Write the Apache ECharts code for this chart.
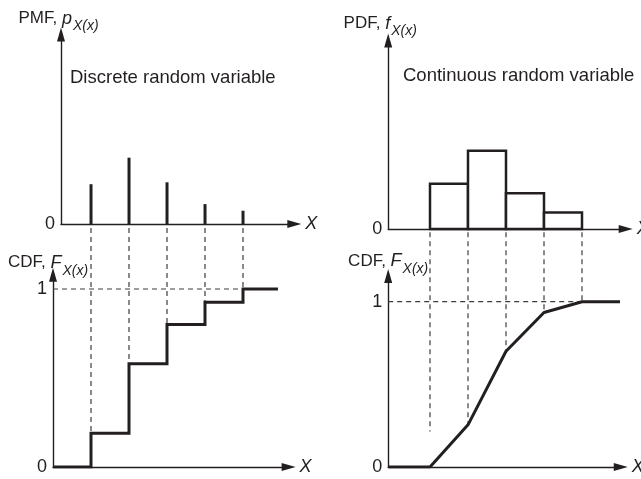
<!DOCTYPE html>
<html><head><meta charset="utf-8">
<script src="https://cdn.jsdelivr.net/npm/echarts@6/dist/echarts.min.js"></script>
<style>html,body{margin:0;padding:0;background:#fff}#c{width:641px;height:479px}</style>
</head><body><div id="c"></div>
<script>
// ---------------- data ----------------
const stemX = [1, 2, 3, 4, 5];
const pmfValues = [0.21, 0.35, 0.22, 0.105, 0.07];
const cdfDiscreteX = [0, 1, 2, 3, 4, 5, 5.92];
const cdfDiscreteY = [0, 0.19, 0.58, 0.80, 0.925, 1, 1];
const binEdges = [1, 2, 3, 4, 5];
const pdfValues = [0.24, 0.415, 0.19, 0.087];
const cdfContX = [-0.1, 1, 2, 3, 4, 5, 6.0];
const cdfContY = [0, 0, 0.255, 0.70, 0.935, 1, 1];
const guideDiscreteEnd = [0.19, 0.58, 0.80, 0.925, 1];
const guideContEnd = [0.215, 0.255, 0.70, 0.935, 1];
const guideDiscreteTop = 1.343;
const guideContTop = 1.42;
const densityTicks = [0];
const cdfTicks = [0, 1];
const panelTexts = ['Discrete random variable', 'Continuous random variable'];

// ---------------- style / layout ----------------
const INK = '#231f20';
const DASH = '#3c3c3c';
const FONT = 'Liberation Sans, Arial, sans-serif';
const PX = 38; // px per x unit

const ax = {
  pmf:  {xmin: 0.21, xmax: 6.35, ymax: 1,     left: 61,    bottom: 224, pxy: 189.5},
  cdfD: {xmin: 0,    xmax: 6.2,  ymax: 1.08,  left: 53,    bottom: 467, pxy: 178},
  pdf:  {xmin: -0.1, xmax: 6.15, ymax: 1,     left: 388.2, bottom: 229, pxy: 188.5},
  cdfC: {xmin: -0.1, xmax: 6.02, ymax: 1.155, left: 388.2, bottom: 467, pxy: 165.3}
};
const order = ['pmf', 'cdfD', 'pdf', 'cdfC'];
const grids = order.map(k => {
  const a = ax[k];
  const h = a.ymax * a.pxy;
  return {left: a.left, top: a.bottom - h, width: (a.xmax - a.xmin) * PX, height: h,
          containLabel: false, outerBoundsMode: 'none'};
});

function axisLine() {
  return {show: true, onZero: false, symbol: ['none', 'triangle'], symbolSize: [8, 14],
          lineStyle: {color: INK, width: 1.4}};
}
const xAxes = order.map((k, i) => ({
  type: 'value', gridIndex: i, min: ax[k].xmin, max: ax[k].xmax,
  axisLine: axisLine(), axisTick: {show: false}, axisLabel: {show: false}, splitLine: {show: false},
  name: 'X', nameLocation: 'end', nameGap: 11,
  nameTextStyle: {fontFamily: FONT, fontSize: 18, fontStyle: 'italic', color: INK}
}));

function nameRich() {
  return {
    a: {fontFamily: FONT, fontSize: 17, color: INK, lineHeight: 20, verticalAlign: 'top'},
    b: {fontFamily: FONT, fontSize: 18, fontStyle: 'italic', color: INK, lineHeight: 20, verticalAlign: 'top'},
    c: {fontFamily: FONT, fontSize: 14, fontStyle: 'italic', color: INK, lineHeight: 14, verticalAlign: 'top', padding: [10, 0, 0, 1]}
  };
}
const yNames = ['{a|PMF, }{b|p}{c|X(x)}', '{a|CDF, }{b|F}{c|X(x)}', '{a|PDF, }{b|f}{c|X(x)}', '{a|CDF, }{b|F}{c|X(x)}'];
const yGaps = [5, 1, 6, 3.6];
const yPadRight = [5, 10, 16, 0];
const yAxes = order.map((k, i) => ({
  type: 'value', gridIndex: i, min: 0, max: ax[k].ymax,
  axisLine: axisLine(), axisTick: {show: false}, splitLine: {show: false},
  axisLabel: {show: true, customValues: (k === 'pmf' || k === 'pdf') ? densityTicks : cdfTicks,
              margin: 6, fontFamily: FONT, fontSize: 18, color: INK},
  name: yNames[i], nameLocation: 'end', nameGap: yGaps[i],
  nameTextStyle: {rich: nameRich(), padding: [0, yPadRight[i], 0, 0]}
}));

// ---------------- series ----------------
const series = [];

series.push({
  type: 'custom', xAxisIndex: 0, yAxisIndex: 0, z: 5,
  data: stemX.map((x, i) => [x, pmfValues[i]]),
  renderItem: (p, api) => {
    const a = api.coord([api.value(0), 0]);
    const b = api.coord([api.value(0), api.value(1)]);
    return {type: 'line', shape: {x1: a[0], y1: a[1], x2: b[0], y2: b[1]}, style: {stroke: INK, lineWidth: 3}};
  }
});

series.push({
  type: 'custom', xAxisIndex: 2, yAxisIndex: 2, z: 5,
  data: pdfValues.map((v, i) => [binEdges[i], binEdges[i + 1], v]),
  renderItem: (p, api) => {
    const a = api.coord([api.value(0), api.value(2)]);
    const b = api.coord([api.value(1), 0]);
    return {type: 'rect', shape: {x: a[0], y: a[1], width: b[0] - a[0], height: b[1] - a[1]},
            style: {fill: '#fff', stroke: INK, lineWidth: 2.5}};
  }
});

function guideSeries(xi, xs, top, ends) {
  return {
    type: 'custom', xAxisIndex: xi, yAxisIndex: xi, z: 2, clip: false,
    data: xs.map((x, i) => [x, top, ends[i]]),
    renderItem: (p, api) => {
      const a = api.coord([api.value(0), api.value(1)]);
      const b = api.coord([api.value(0), api.value(2)]);
      return {type: 'line', shape: {x1: a[0], y1: a[1], x2: b[0], y2: b[1]},
              style: {stroke: DASH, lineWidth: 1.2, lineDash: [5, 4]}};
    }
  };
}
series.push(guideSeries(1, stemX, guideDiscreteTop, guideDiscreteEnd));
series.push(guideSeries(3, binEdges, guideContTop, guideContEnd));

series.push({type: 'line', xAxisIndex: 1, yAxisIndex: 1, z: 2, symbol: 'none', silent: true,
  data: [[ax.cdfD.xmin, 1], [stemX[stemX.length - 1], 1]],
  lineStyle: {color: DASH, width: 1.2, type: [5, 4]}});
series.push({type: 'line', xAxisIndex: 3, yAxisIndex: 3, z: 2, symbol: 'none', silent: true,
  data: [[ax.cdfC.xmin, 1], [binEdges[binEdges.length - 1], 1]],
  lineStyle: {color: DASH, width: 1.2, type: [5, 4]}});

series.push({type: 'line', xAxisIndex: 1, yAxisIndex: 1, z: 6, symbol: 'none', step: 'end', silent: true,
  data: cdfDiscreteX.map((x, i) => [x, cdfDiscreteY[i]]),
  lineStyle: {color: INK, width: 3, join: 'miter'}});
series.push({type: 'line', xAxisIndex: 3, yAxisIndex: 3, z: 6, symbol: 'none', silent: true,
  data: cdfContX.map((x, i) => [x, cdfContY[i]]),
  lineStyle: {color: INK, width: 3}});

const chart = echarts.init(document.getElementById('c'), null, {renderer: 'canvas'});
chart.setOption({
  animation: false,
  backgroundColor: '#fff',
  grid: grids,
  xAxis: xAxes,
  yAxis: yAxes,
  graphic: [
    {type: 'text', left: 70, top: 68, style: {text: panelTexts[0], font: '18.5px ' + FONT, fill: INK}},
    {type: 'text', left: 403, top: 66, style: {text: panelTexts[1], font: '18.5px ' + FONT, fill: INK}}
  ],
  series: series
});
</script>
</body></html>
